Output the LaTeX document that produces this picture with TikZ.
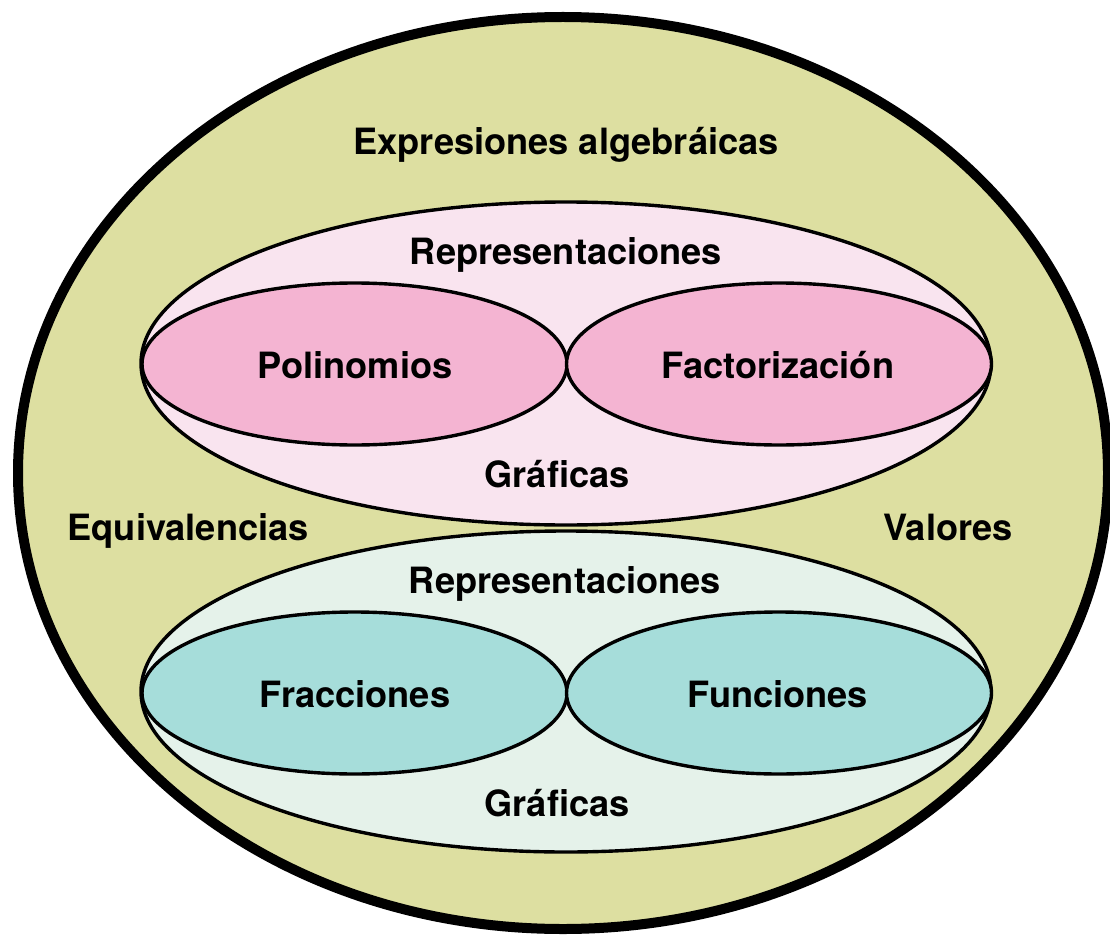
\documentclass[tikz,border=0pt]{standalone}
\usepackage{fontspec}
\setmainfont{TeX Gyre Heros}
\usetikzlibrary{shapes.geometric}
\definecolor{olivebg}{HTML}{DDDFA1}
\definecolor{pinklight}{HTML}{F9E4EF}
\definecolor{pinkmid}{HTML}{F4B4D2}
\definecolor{greenlight}{HTML}{E5F2EA}
\definecolor{tealmid}{HTML}{A6DDDA}
\tikzset{
  lbl/.style={font=\bfseries\fontsize{36.2}{40}\selectfont, anchor=base, inner sep=0pt},
  thin ring/.style={draw=black, line width=3.4pt},
}
\begin{document}
\begin{tikzpicture}[x=1pt,y=-1pt]
\useasboundingbox (0,0) rectangle (1110,941);
% outer
\draw[fill=olivebg, line width=10pt] (563,473) ellipse [x radius=545, y radius=456];
% upper group
\draw[thin ring, fill=pinklight] (566,363.5) ellipse [x radius=425, y radius=161.5];
\draw[thin ring, fill=pinkmid] (354.5,364) ellipse [x radius=212.5, y radius=81];
\draw[thin ring, fill=pinkmid] (779,364) ellipse [x radius=212.5, y radius=81];
% lower group
\draw[thin ring, fill=greenlight] (566,691.5) ellipse [x radius=425, y radius=160.5];
\draw[thin ring, fill=tealmid] (354.5,693) ellipse [x radius=212.5, y radius=81];
\draw[thin ring, fill=tealmid] (779,693) ellipse [x radius=212.5, y radius=81];
% labels
\node[lbl] (expr) at (566,155) {Expresiones algebráicas};
\node[lbl] (rep1) at (566,265) {Representaciones};
\node[lbl] (pol) at (355,378) {Polinomios};
\node[lbl] (fac) at (778,378) {Factorización};
\node[lbl] (gra1) at (557,487) {Gráficas};
\node[lbl] (equ) at (188,540) {Equivalencias};
\node[lbl] (val) at (948,540) {Valores};
\node[lbl] (rep2) at (565,593) {Representaciones};
\node[lbl] (fra) at (355,707) {Fracciones};
\node[lbl] (fun) at (778,707) {Funciones};
\node[lbl] (gra2) at (557,816) {Gráficas};
\end{tikzpicture}
\end{document}
